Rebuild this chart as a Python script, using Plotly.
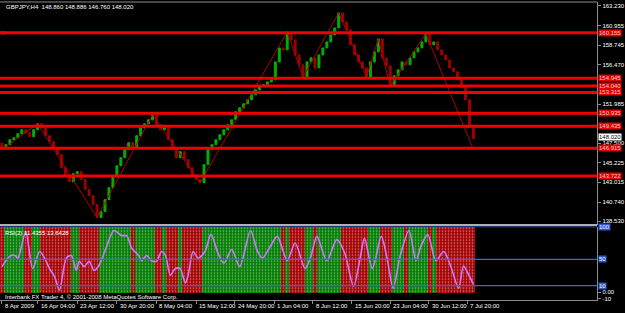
import plotly.graph_objects as go

# ---------------- data ----------------
first_open = 147.50
closes = [146.97, 147.32, 147.89, 148.12, 148.58, 149.04, 148.69, 148.23, 149.04, 149.72,
          149.26, 148.35, 147.66, 146.97, 146.17, 144.68, 143.77, 143.08, 143.99, 144.23,
          143.31, 142.17, 141.48, 140.45, 138.96, 139.65, 141.02, 142.39, 143.77, 144.91,
          145.83, 146.75, 147.55, 146.97, 148.35, 149.26, 149.72, 150.18, 150.75, 149.61,
          149.04, 149.26, 147.89, 146.75, 145.83, 146.52, 145.60, 144.68, 143.88, 143.31,
          142.97, 145.03, 146.75, 147.32, 147.89, 148.46, 149.04, 149.61, 150.18, 151.10,
          151.55, 152.01, 152.47, 153.04, 153.62, 154.07, 154.19, 154.53, 154.76, 156.82,
          158.42, 158.20, 160.26, 159.34, 157.62, 156.48, 155.10, 156.82, 157.28, 156.13,
          157.62, 158.42, 159.11, 159.91, 160.71, 162.43, 161.40, 160.49, 158.77, 157.62,
          156.82, 156.13, 155.10, 156.82, 157.97, 159.45, 157.28, 156.36, 154.07, 155.22,
          155.91, 156.82, 156.48, 157.28, 157.97, 158.42, 159.11, 160.03, 158.77, 159.11,
          158.20, 157.62, 157.05, 156.13, 155.68, 154.76, 153.84, 152.47, 149.26, 148.02]

zz_bar = [0, 9, 24, 38, 50, 72, 76, 85, 92, 95, 98, 107, 119]
zz_price = [146.75, 149.72, 138.96, 150.75, 142.97, 160.26, 155.10, 162.43, 155.10,
            159.45, 154.07, 160.03, 146.76]

rsi_bar = [0, 2, 3.25, 4, 6, 7.75, 9.5, 10.75, 12, 13.25, 14.5, 16.25, 17.5, 18.75, 19.5,
           20.75, 22, 23.25, 24.5, 26.25, 28.25, 30.25, 31.5, 32.75, 34.5, 35.25, 36.5,
           37.75, 39, 40.25, 41.25, 42.5, 43.75, 45, 46.25, 47, 48.25, 49.5, 51.25, 52.75,
           54.5, 56, 58, 60, 62.75, 64.5, 65.75, 67.75, 69.5, 72, 74, 76.5, 78, 79.5, 82,
           84.5, 86.5, 88.75, 90.5, 91.5, 93.5, 95.75, 97.25, 98.75, 100.5, 102.75, 104.5,
           105.75, 107.5, 109.5, 111.5, 113.25, 115.25, 116.5, 117.5, 119]
rsi_val = [39, 55, 56, 52, 92, 36, 62, 52, 36, 24, 3, 52, 56, 33, 47, 39, 47, 33, 41, 67,
           94, 86, 86, 67, 56, 48, 56, 48, 47, 62, 56, 26, 36, 36, 14, 26, 62, 52, 62, 88,
           60, 44, 65, 39, 94, 62, 52, 70, 85, 48, 75, 36, 55, 85, 48, 80, 60, 9, 55, 82,
           36, 85, 50, 6, 55, 94, 48, 70, 88, 48, 62, 40, 6, 40, 30, 12]

level_prices = [160.155, 154.945, 154.040, 153.315, 150.935, 149.435, 146.915, 143.722]
level_labels = ["160.155", "154.945", "154.040", "153.315", "150.935", "149.435", "146.915", "143.722"]

price_ticks = [163.230, 160.955, 158.745, 156.470, 151.985, 147.500,
               145.225, 143.015, 140.740, 138.530]
price_tick_text = ["163.230", "160.955", "158.745", "156.470", "151.985",
                   "147.500", "145.225", "143.015", "140.740", "138.530"]

time_bars = [0, 9, 19, 29, 39, 49, 58.75, 68.75, 78.5, 88.25, 98, 107.75, 117.5]
time_labels = ["8 Apr 2009", "16 Apr 04:00", "23 Apr 12:00", "30 Apr 20:00", "8 May 04:00",
               "15 May 12:00", "24 May 20:00", "1 Jun 04:00", "8 Jun 12:00", "15 Jun 20:00",
               "23 Jun 04:00", "30 Jun 12:00", "7 Jul 20:00"]

rsi_levels = [100, 50, 10]
rsi_level_text = ["100", "50", "10"]
rsi_ticks = [0, -10]
rsi_tick_text = ["0.00", "-10"]

header = "GBPJPY,H4  148.860 148.886 146.760 148.020"
rsi_title = "RSI(2) 11.4355 13.6428"
footer = "Interbank FX Trader 4, © 2001-2008 MetaQuotes Software Corp."
last_close = 148.020

# ---------------- derived ----------------
W, H = 625, 313
bars = list(range(len(closes)))
opens = [first_open] + closes[:-1]
highs = [max(o, c) for o, c in zip(opens, closes)]
lows = [min(o, c) for o, c in zip(opens, closes)]
stripe_colors = ["#007c00" if c >= o else "#a40000" for o, c in zip(opens, closes)]

def PX(x):
    return x / W

def PY(y):
    return 1 - y / H

FONT = "Liberation Sans"
AX_RIGHT = PX(603)
GRAY = "#8c8c8c"

fig = go.Figure()

fig.add_trace(go.Candlestick(
    x=bars, open=opens, high=highs, low=lows, close=closes,
    increasing=dict(line=dict(color="#00b000", width=1), fillcolor="#00b000"),
    decreasing=dict(line=dict(color="#a00000", width=1), fillcolor="#a00000"),
    whiskerwidth=0, xaxis="x", yaxis="y", showlegend=False, hoverinfo="skip"))

fig.add_trace(go.Scatter(
    x=zz_bar, y=zz_price, mode="lines", line=dict(color="#b00000", width=1),
    xaxis="x", yaxis="y", showlegend=False, hoverinfo="skip"))

fig.add_trace(go.Bar(
    x=bars, y=[100] * len(bars), base=0, width=1,
    marker=dict(color=stripe_colors, line=dict(width=0),
                pattern=dict(shape=".", fgcolor="#000000", size=3, solidity=0.25)),
    xaxis="x2", yaxis="y2", showlegend=False, hoverinfo="skip"))

fig.add_trace(go.Scatter(
    x=rsi_bar, y=rsi_val, mode="lines",
    line=dict(color="#cf78ff", width=1.6, shape="spline", smoothing=0.8),
    xaxis="x2", yaxis="y2", showlegend=False, hoverinfo="skip"))

shapes = []
for p in level_prices:
    shapes.append(dict(type="line", xref="paper", yref="y", x0=0, x1=AX_RIGHT, y0=p, y1=p,
                       line=dict(color="#f00000", width=3), layer="above"))
for lv in rsi_levels:
    shapes.append(dict(type="line", xref="paper", yref="y2", x0=0, x1=AX_RIGHT, y0=lv, y1=lv,
                       line=dict(color="#3a64e0", width=1.2), layer="above"))
# pane borders
shapes.append(dict(type="line", xref="paper", yref="paper", x0=0, x1=AX_RIGHT,
                   y0=PY(2), y1=PY(2), line=dict(color=GRAY, width=1)))
shapes.append(dict(type="line", xref="paper", yref="paper", x0=0, x1=AX_RIGHT,
                   y0=PY(226.5), y1=PY(226.5), line=dict(color="#b0b0b0", width=2)))
# small anchor square at the left end of the top level line
shapes.append(dict(type="rect", xref="paper", yref="y", x0=PX(1), x1=PX(5),
                   y0=level_prices[0] - 0.2, y1=level_prices[0] + 0.2,
                   fillcolor="#f00000", line=dict(width=0), layer="above"))

annotations = []
annotations.append(dict(text=header, xref="paper", yref="paper", x=PX(4), y=PY(2),
                        xanchor="left", yanchor="top", showarrow=False,
                        font=dict(family=FONT, size=6, color="#ffffff")))
annotations.append(dict(text=rsi_title, xref="paper", yref="paper", x=PX(3), y=PY(229),
                        xanchor="left", yanchor="top", showarrow=False,
                        font=dict(family=FONT, size=6, color="#ffffff")))
annotations.append(dict(text=footer, xref="paper", yref="paper", x=PX(3), y=PY(294),
                        xanchor="left", yanchor="top", showarrow=False,
                        font=dict(family=FONT, size=6, color="#ffffff")))
for p, t in zip(level_prices, level_labels):
    annotations.append(dict(text=t, xref="paper", yref="y", x=PX(604), y=p,
                            xanchor="left", yanchor="middle", showarrow=False,
                            bgcolor="#e00000", borderpad=0,
                            font=dict(family=FONT, size=6, color="#ffc8c8")))
annotations.append(dict(text=f"{last_close:.3f}", xref="paper", yref="y", x=PX(604), y=last_close,
                        xanchor="left", yanchor="middle", showarrow=False, yshift=2,
                        bgcolor="#ffffff", borderpad=0,
                        font=dict(family=FONT, size=6, color="#000000")))
for lv, t in zip(rsi_levels, rsi_level_text):
    annotations.append(dict(text=t, xref="paper", yref="y2", x=PX(604), y=lv,
                            xanchor="left", yanchor="middle", showarrow=False,
                            bgcolor="#2f55d0", borderpad=0,
                            font=dict(family=FONT, size=6, color="#ffffff")))
for b, t in zip(time_bars, time_labels):
    annotations.append(dict(text=t, xref="x2", yref="paper", x=b, y=PY(303),
                            xanchor="left", yanchor="top", showarrow=False, xshift=1,
                            font=dict(family=FONT, size=6, color="#ffffff")))

xr = [-0.5, 150.25]
fig.update_layout(
    width=W, height=H, margin=dict(l=0, r=0, t=0, b=0),
    paper_bgcolor="#000000", plot_bgcolor="#000000",
    showlegend=False, bargap=0, barmode="overlay",
    font=dict(family=FONT, size=6, color="#ffffff"),
    xaxis=dict(domain=[0, AX_RIGHT], range=xr, showgrid=False, zeroline=False,
               showticklabels=False, rangeslider=dict(visible=False), anchor="y"),
    yaxis=dict(domain=[PY(226), PY(2)], range=[138.16, 163.69], side="right",
               tickvals=price_ticks, ticktext=price_tick_text, ticks="outside", ticklen=3,
               tickcolor=GRAY, showgrid=False, zeroline=False, showline=True,
               linecolor=GRAY, linewidth=1, anchor="x",
               tickfont=dict(family=FONT, size=6, color="#ffffff")),
    xaxis2=dict(domain=[0, AX_RIGHT], range=xr, showgrid=False, zeroline=False,
                showticklabels=False, tickvals=time_bars, ticks="outside", ticklen=3,
                tickcolor=GRAY, showline=True, linecolor=GRAY, linewidth=1, anchor="y2"),
    yaxis2=dict(domain=[PY(302), PY(228)], range=[-12, 100], side="right",
                tickvals=rsi_ticks, ticktext=rsi_tick_text, ticks="outside", ticklen=3,
                tickcolor=GRAY, showgrid=False, zeroline=False, showline=True,
                linecolor=GRAY, linewidth=1, anchor="x2",
                tickfont=dict(family=FONT, size=6, color="#ffffff")),
    shapes=shapes, annotations=annotations,
)

fig.write_html("out.html")
